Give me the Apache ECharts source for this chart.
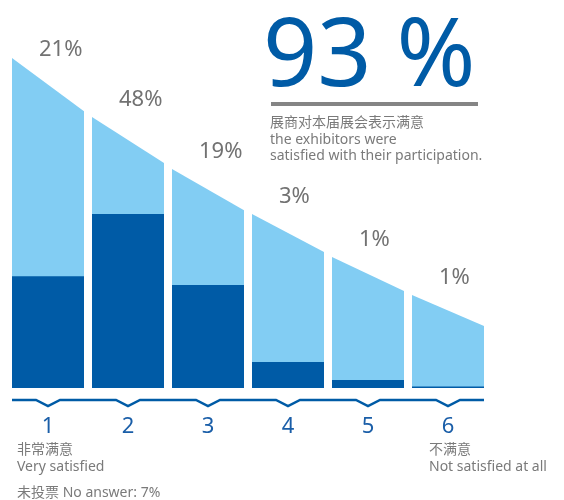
<!DOCTYPE html>
<html>
<head>
<meta charset="utf-8">
<script src="https://cdn.jsdelivr.net/npm/echarts@6/dist/echarts.min.js"></script>
<style>
html,body{margin:0;padding:0;background:#fff;}
#chart{width:564px;height:500px;}
</style>
</head>
<body>
<div id="chart"></div>
<script>
// ---- data ----
var categories = ['1', '2', '3', '4', '5', '6'];
var percentLabels = ['21%', '48%', '19%', '3%', '1%', '1%'];
// visual bar heights (axis units, 0-100)
var barHeights = [33.9, 52.7, 31.2, 7.9, 2.4, 0.45];
// sloped background: top at left edge / right edge of each column
var bgTopLeft = [100, 82.1, 66.4, 52.7, 39.7, 28.2];
var bgTopRight = [83.9, 68.2, 53.9, 41.2, 29.4, 18.8];
var headline = '93 %';
var headlineNotes = ['展商对本届展会表示满意', 'the exhibitors were', 'satisfied with their participation.'];
var leftNotes = ['非常满意', 'Very satisfied'];
var rightNotes = ['不满意', 'Not satisfied at all'];
var footNote = '未投票 No answer: 7%';

var LIGHT = '#82CDF3', DARK = '#005BA6', GRAY = '#727272', NOTE = '#7A7A7A';
var FONT = '"Noto Sans", "Noto Sans CJK SC", sans-serif';

var chart = echarts.init(document.getElementById('chart'));

var bgData = categories.map(function (c, i) { return [i, bgTopLeft[i], bgTopRight[i]]; });

function textEl(t, x, y, size, color) {
  return {
    type: 'text', x: x, y: y, silent: true,
    style: { text: t, fill: color, font: size + 'px ' + FONT, verticalAlign: 'middle', align: 'left' }
  };
}

var graphics = [];
graphics.push({
  type: 'text', x: 263, y: 58.5, silent: true,
  style: { text: headline, fill: DARK, font: '95px ' + FONT, verticalAlign: 'middle', align: 'left' }
});
graphics.push({ type: 'rect', shape: { x: 271, y: 102, width: 207, height: 4 }, style: { fill: '#858585' }, silent: true });
headlineNotes.forEach(function (t, k) { graphics.push(textEl(t, 270, 123 + k * 16.7, 14, NOTE)); });
leftNotes.forEach(function (t, k) { graphics.push(textEl(t, 17, 450 + k * 17, 14, NOTE)); });
rightNotes.forEach(function (t, k) { graphics.push(textEl(t, 429, 450 + k * 17, 14, NOTE)); });
graphics.push(textEl(footNote, 17, 493, 14, NOTE));

var option = {
  animation: false,
  grid: { left: 8, right: 76, top: 58, bottom: 112 },
  xAxis: {
    type: 'category', data: categories,
    axisLine: { show: false }, axisTick: { show: false },
    axisLabel: { color: '#1A5EA8', fontSize: 22, fontFamily: FONT, margin: 28 }
  },
  yAxis: { type: 'value', min: 0, max: 100, show: false, splitLine: { show: false } },
  graphic: graphics,
  series: [
    {
      type: 'custom', z: 1,
      data: bgData,
      renderItem: function (params, api) {
        var i = api.value(0);
        var base = api.coord([i, 0]);
        var cx = base[0];
        var w = 72;
        var pl = api.coord([i, api.value(1)]);
        var pr = api.coord([i, api.value(2)]);
        var top = params.coordSys.y;
        return {
          type: 'group',
          children: [
            {
              type: 'polygon',
              shape: { points: [[cx - w / 2, pl[1]], [cx + w / 2, pr[1]], [cx + w / 2, base[1]], [cx - w / 2, base[1]]] },
              style: { fill: LIGHT }
            },
            {
              type: 'text',
              x: cx - w / 2 + 27, y: Math.max(pl[1] - 17, top - 8),
              style: { text: percentLabels[i], fill: GRAY, font: '22px ' + FONT, verticalAlign: 'middle', align: 'left' }
            }
          ]
        };
      }
    },
    {
      type: 'bar', z: 2,
      data: barHeights,
      barWidth: 72,
      itemStyle: { color: DARK },
      silent: true
    },
    {
      type: 'custom', z: 3,
      data: [[0, 0]],
      renderItem: function (params, api) {
        var pts = [];
        var n = categories.length;
        for (var i = 0; i < n; i++) {
          var base = api.coord([i, 0]);
          var cx = base[0];
          var y = base[1] + 12;
          if (i === 0) pts.push([cx - 36, y]);
          pts.push([cx - 12, y], [cx, y + 6], [cx + 12, y]);
          if (i === n - 1) pts.push([cx + 36, y]);
        }
        return {
          type: 'polyline',
          shape: { points: pts },
          style: { stroke: DARK, lineWidth: 2.5, fill: null, lineJoin: 'miter' }
        };
      }
    }
  ]
};
chart.setOption(option);
</script>
</body>
</html>
